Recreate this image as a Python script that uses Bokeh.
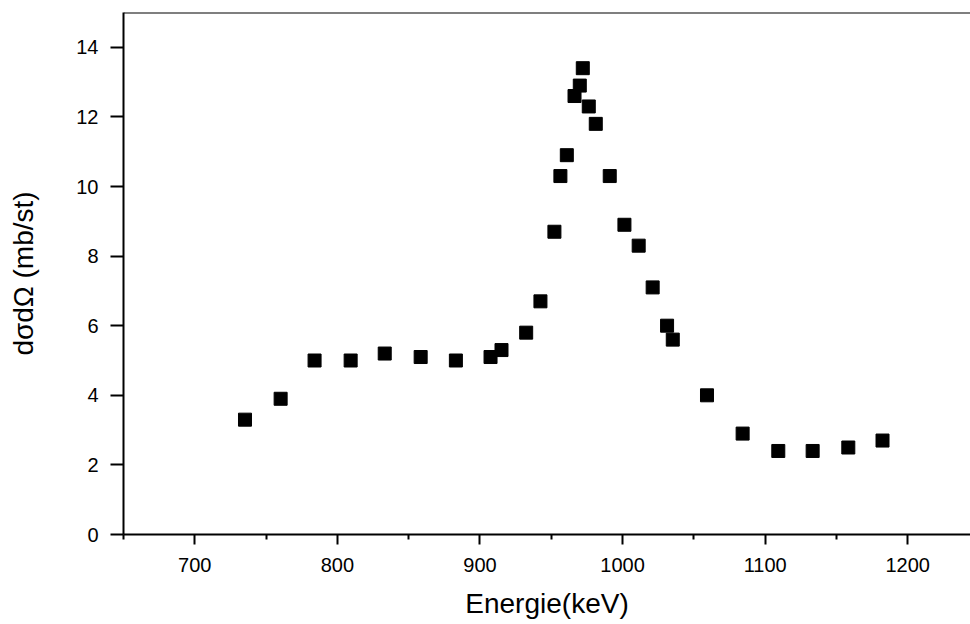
from bokeh.plotting import figure
from bokeh.models import Range1d, FixedTicker, Span
from bokeh.embed import file_html
from bokeh.resources import INLINE

# Data
energy = [735.2, 760.2, 784.0, 809.3, 833.2, 858.4, 883.1, 907.4, 915.1, 932.4,
          942.4, 952.2, 956.4, 960.9, 966.3, 970.0, 972.1, 976.3, 981.2, 991.0,
          1001.3, 1011.3, 1021.1, 1031.2, 1035.2, 1059.2, 1084.2, 1109.2, 1133.3,
          1158.3, 1182.3]
cross_section = [3.3, 3.9, 5.0, 5.0, 5.2, 5.1, 5.0, 5.1, 5.3, 5.8,
                 6.7, 8.7, 10.3, 10.9, 12.6, 12.9, 13.4, 12.3, 11.8, 10.3,
                 8.9, 8.3, 7.1, 6.0, 5.6, 4.0, 2.9, 2.4, 2.4,
                 2.5, 2.7]
x_ticks = [700, 800, 900, 1000, 1100, 1200]
y_ticks = [0, 2, 4, 6, 8, 10, 12, 14]
x_label = "Energie(keV)"
y_label = "dσdΩ (mb/st)"

FONT = "Liberation Sans"

p = figure(frame_width=847, frame_height=522,
           x_range=Range1d(650, 1244), y_range=Range1d(0, 15),
           output_backend="svg", toolbar_location=None,
           min_border_left=123, min_border_top=12, min_border_bottom=80,
           min_border_right=0)

p.scatter(energy, cross_section, marker="square", size=13,
          fill_color="black", line_color="black")

p.grid.visible = False
p.outline_line_color = None
p.background_fill_color = "white"
p.border_fill_color = "white"

top_line = Span(location=15, dimension="width", line_color="black", line_width=2)
p.add_layout(top_line)

xa = p.xaxis[0]
xa.ticker = FixedTicker(ticks=x_ticks,
                        minor_ticks=[650, 750, 850, 950, 1050, 1150])
xa.axis_label = x_label
ya = p.yaxis[0]
ya.ticker = FixedTicker(ticks=y_ticks, minor_ticks=[])
ya.axis_label = y_label

for ax in (xa, ya):
    ax.axis_line_width = 2
    ax.axis_line_color = "black"
    ax.major_tick_line_width = 2
    ax.minor_tick_line_width = 2
    ax.major_tick_line_color = "black"
    ax.minor_tick_line_color = "black"
    ax.major_tick_in = 0
    ax.minor_tick_in = 0
    ax.major_label_text_font = FONT
    ax.major_label_text_font_size = "20px"
    ax.major_label_text_color = "black"
    ax.axis_label_text_font = FONT
    ax.axis_label_text_font_size = "28px"
    ax.axis_label_text_font_style = "normal"
    ax.axis_label_text_color = "black"

xa.major_tick_out = 10
xa.minor_tick_out = 5
xa.major_label_standoff = 13
xa.axis_label_standoff = 13

ya.major_tick_out = 13
ya.minor_tick_out = 0
ya.major_label_standoff = 12
ya.axis_label_standoff = 34

open("out.html", "w").write(file_html(p, INLINE))
